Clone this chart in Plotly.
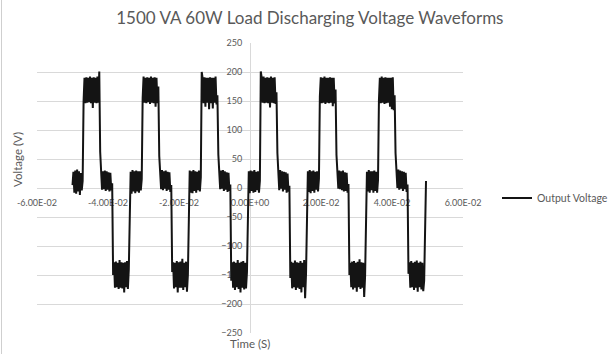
import numpy as np
import plotly.graph_objects as go

# Oscilloscope capture: 1500 VA UPS, 60 W load, on battery (modified sine output)
T_START = -0.05          # s, first sample
SAMPLE_INTERVAL = 2.6e-4  # s between samples

# Voltage samples (V), grouped by segment of the stepped waveform
lead_in = [5, 28, -8, 30, -10, 32, -6, 29, -12, 26, -4, 12]

pos_1 = [150, 190, 146, 191, 147, 190, 148, 192, 146, 190, 138, 191, 147, 190, 146, 192, 147, 201]
mid_1 = [62, 31, -3, 29, -2, 30, -5, 29, -3, 27, -6, 26, -4, 8]
neg_1 = [-150, -128, -172, -127, -171, -129, -174, -124, -172, -128, -173, -129, -180, -128, -171, -126, -174, -140]
low_1 = [-40, 28, -10, 31, -6, 29, -9, 30, -6, 29, -8, 29, -4, 15]

pos_2 = [155, 192, 147, 190, 146, 191, 148, 190, 145, 192, 147, 190, 146, 191, 140, 190, 146, 175]
mid_2 = [55, 30, -2, 31, -4, 29, -1, 30, -5, 28, -3, 27, -7, 5]
neg_2 = [-145, -128, -173, -129, -171, -126, -180, -128, -172, -127, -172, -122, -176, -129, -171, -127, -179, -150]
low_2 = [-35, 30, -8, 29, -9, 31, -5, 29, -8, 28, -4, 30, -6, 18]

pos_3 = [200, 189, 146, 191, 140, 190, 147, 190, 136, 191, 146, 190, 137, 190, 147, 192, 144, 160]
mid_3 = [58, 31, -2, 30, -1, 31, -5, 29, -3, 27, -7, 26, -5, 6]
neg_3 = [-160, -128, -172, -127, -176, -129, -171, -124, -174, -129, -180, -127, -172, -126, -175, -129, -173, -145]
low_3 = [-45, 29, -9, 30, -5, 29, -8, 31, -7, 28, -4, 29, -8, 12]

pos_4 = [201, 190, 147, 192, 146, 190, 147, 191, 146, 190, 139, 192, 147, 190, 146, 191, 145, 165]
mid_4 = [60, 30, -4, 31, -1, 29, -6, 28, -3, 27, -8, 25, -6, 4]
neg_4 = [-155, -127, -173, -129, -171, -125, -176, -128, -172, -129, -174, -126, -180, -129, -171, -124, -190, -148]
low_4 = [-38, 29, -7, 31, -9, 29, -5, 30, -8, 28, -3, 29, -6, 16]

pos_5 = [158, 191, 146, 190, 147, 192, 145, 190, 147, 190, 146, 191, 147, 190, 141, 190, 146, 170]
mid_5 = [57, 31, -1, 30, -2, 29, -4, 30, -6, 27, -5, 26, -8, 7]
neg_5 = [-150, -129, -171, -127, -175, -126, -172, -129, -179, -127, -171, -123, -174, -128, -172, -129, -188, -152]
low_5 = [-42, 28, -6, 31, -8, 29, -4, 29, -8, 30, -5, 28, -8, 14]

pos_6 = [152, 190, 146, 192, 147, 190, 145, 191, 146, 190, 147, 190, 140, 190, 136, 191, 134, 160]
mid_6 = [60, 31, 0, 32, -3, 30, -1, 29, -5, 28, -2, 26, -7, 6]
neg_6 = [-148, -128, -172, -126, -171, -129, -176, -127, -172, -125, -179, -129, -171, -127, -175, -129, -178, -160]
tail = [-70, 12]

segments = [lead_in,
            pos_1, mid_1, neg_1, low_1,
            pos_2, mid_2, neg_2, low_2,
            pos_3, mid_3, neg_3, low_3,
            pos_4, mid_4, neg_4, low_4,
            pos_5, mid_5, neg_5, low_5,
            pos_6, mid_6, neg_6, tail]
voltage = np.concatenate([np.asarray(s, dtype=float) for s in segments])
time_s = T_START + np.arange(voltage.size) * SAMPLE_INTERVAL

x_ticks = [-0.06, -0.04, -0.02, 0.0, 0.02, 0.04, 0.06]
x_tick_labels = ["-6.00E-02", "-4.00E-02", "-2.00E-02", "0.00E+00", "2.00E-02", "4.00E-02", "6.00E-02"]
y_ticks = [-250, -200, -150, -100, -50, 0, 50, 100, 150, 200, 250]

FONT = "Lato, 'Open Sans', sans-serif"
GREY_TEXT = "#595959"
GRID = "#d9d9d9"

fig = go.Figure()
fig.add_trace(go.Scatter(
    x=time_s, y=voltage, mode="lines", name="Output Voltage",
    line=dict(color="#141414", width=2),
))

fig.update_layout(
    width=610, height=354,
    margin=dict(l=37, r=147, t=43, b=21),
    paper_bgcolor="white", plot_bgcolor="white",
    font=dict(family=FONT, color=GREY_TEXT, size=9),
    title=dict(text="1500 VA 60W Load Discharging Voltage Waveforms",
               xref="container", x=0.508, xanchor="center",
               yref="container", y=1 - 18 / 354, yanchor="middle",
               font=dict(family=FONT, size=17, color=GREY_TEXT)),
    showlegend=True,
    legend=dict(xref="container", x=497 / 610, xanchor="left",
                yref="container", y=1 - 198 / 354, yanchor="middle",
                font=dict(size=10.5, color=GREY_TEXT), bgcolor="rgba(0,0,0,0)",
                itemwidth=30),
    xaxis=dict(range=[-0.06, 0.06], tickvals=x_ticks, ticktext=x_tick_labels,
               showgrid=False, zeroline=False, showline=True, linecolor=GRID, linewidth=1,
               ticks="", anchor="free", position=0.5, layer="below traces",
               ticklabelstandoff=6,
               tickfont=dict(size=9, color=GREY_TEXT)),
    yaxis=dict(range=[-250, 250], tickvals=y_ticks, showgrid=True, gridcolor=GRID, gridwidth=1,
               zeroline=False, showline=True, linecolor=GRID, linewidth=1,
               ticks="", anchor="free", position=0.5, layer="below traces",
               ticklabelstandoff=6,
               tickfont=dict(size=9, color=GREY_TEXT)),
    annotations=[
        dict(text="Voltage (V)", xref="paper", yref="paper",
             x=(17 - 37) / 426, y=(333 - 160) / 290, textangle=-90, showarrow=False,
             xanchor="center", yanchor="middle", font=dict(size=11.5, color=GREY_TEXT)),
        dict(text="Time (S)", xref="paper", yref="paper",
             x=(250 - 37) / 426, y=(333 - 343) / 290, showarrow=False,
             xanchor="center", yanchor="middle", font=dict(size=11.5, color=GREY_TEXT)),
    ],
    shapes=[dict(type="line", xref="paper", yref="paper",
                 x0=(1.5 - 37) / 426, x1=(1.5 - 37) / 426, y0=-21 / 290, y1=1 + 43 / 290,
                 line=dict(color="#cfcfcf", width=1))],
)

fig.write_html("out.html")
